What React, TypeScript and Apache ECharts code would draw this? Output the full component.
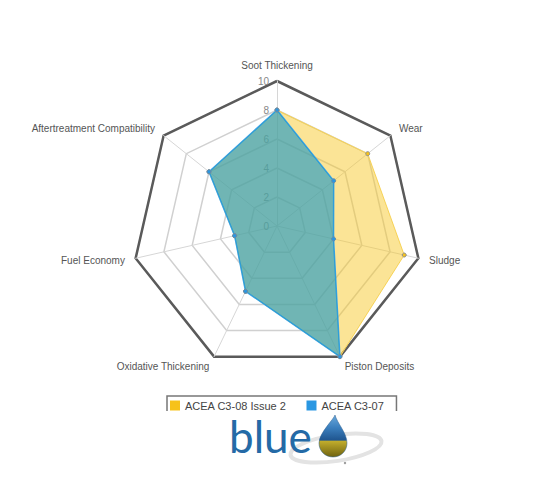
import React, { useEffect, useRef } from "react";
import * as echarts from "echarts";

const indicatorNames = [
  "Soot Thickening",
  "Aftertreatment Compatibility",
  "Fuel Economy",
  "Oxidative Thickening",
  "Piston Deposits",
  "Sludge",
  "Wear",
];
const seriesNames = ["ACEA C3-08 Issue 2", "ACEA C3-07"];
const c308Values = [8, 6, 3, 5, 10, 9, 8];
const c307Values = [8, 6, 3, 5, 10, 4, 5];
const axisMax = 10;

const dropPath =
  "M16 0 C15 4 0 18 0 28 C0 36 6 42 14 42 C22 42 28 36 28 28 C28 18 18 8 16 0 Z";

export default function App() {
  const ref = useRef<HTMLDivElement>(null);
  useEffect(() => {
    if (!ref.current) return;
    echarts.graphic.registerShape("droplet", echarts.graphic.extendPath(dropPath, {}));
    const chart = echarts.init(ref.current, null, { renderer: "svg" });
    const indicators = indicatorNames.map((n, i) =>
      i === 0
        ? {
            name: n,
            min: 0,
            max: axisMax,
            axisLabel: { show: true, color: "#888", fontSize: 10, showMinLabel: true, showMaxLabel: true },
          }
        : { name: n, min: 0, max: axisMax }
    );
    chart.setOption({
      animation: false,
      backgroundColor: "#fff",
      legend: {
        data: seriesNames,
        left: 167,
        top: 396,
        orient: "horizontal",
        itemWidth: 10,
        itemHeight: 10,
        itemGap: 20,
        icon: "rect",
        padding: [4, 12, 6, 3],
        borderColor: "#777",
        borderWidth: 1.5,
        textStyle: { fontSize: 11, color: "#444", fontFamily: "Liberation Sans, Arial, sans-serif" },
        itemStyle: { borderWidth: 0 },
      },
      radar: [
        {
          center: [277, 226],
          radius: 145,
          startAngle: 90,
          splitNumber: 5,
          shape: "polygon",
          indicator: indicators,
          axisName: { color: "#555", fontSize: 10, fontFamily: "Liberation Sans, Arial, sans-serif" },
          nameGap: 11,
          axisLabel: { show: false },
          axisLine: { lineStyle: { color: "#d6d6d6", width: 1 } },
          splitLine: { lineStyle: { color: "#d0d0d0", width: 1.5 } },
          splitArea: { show: false },
        },
        {
          center: [277, 226],
          radius: 145,
          startAngle: 90,
          splitNumber: 1,
          shape: "polygon",
          indicator: indicatorNames.map(() => ({ name: "", min: 0, max: axisMax })),
          axisName: { show: false },
          axisLabel: { show: false },
          axisLine: { show: false },
          splitLine: { lineStyle: { color: "#5a5a5a", width: 2.5 } },
          splitArea: { show: false },
        },
      ],
      series: [
        {
          type: "radar",
          radarIndex: 0,
          symbol: "circle",
          symbolSize: 4,
          z: 3,
          data: [
            {
              name: seriesNames[0],
              value: c308Values,
              itemStyle: { color: "#f6c21a", borderColor: "#8a8f96", borderWidth: 1 },
              lineStyle: { color: "#f7d76a", width: 1 },
              areaStyle: { color: "rgba(247,200,40,0.7)" },
            },
            {
              name: seriesNames[1],
              value: c307Values,
              itemStyle: { color: "#2a97e2", borderColor: "#6b8aa5", borderWidth: 1 },
              lineStyle: { color: "#3ea4e8", width: 1.5 },
              areaStyle: { color: "rgba(20,150,200,0.6)", opacity: 1 },
            },
          ],
        },
      ],
      graphic: [
        { type: "rect", z: 100, shape: { x: 150, y: 411, width: 260, height: 12 }, style: { fill: "#fff" } },
        {
          type: "ellipse",
          z: 101,
          x: 336,
          y: 448,
          rotation: 0.15,
          shape: { cx: 0, cy: 0, rx: 46, ry: 13 },
          style: { fill: "none", stroke: "#e3e3e3", lineWidth: 4 },
        },
        {
          type: "text",
          z: 102,
          x: 229,
          y: 417,
          style: {
            text: "blue",
            fill: "#246aa6",
            font: "normal 44px Lato, 'Open Sans', sans-serif",
            lineHeight: 38,
          },
        },
        {
          type: "droplet",
          z: 103,
          x: 319,
          y: 415,
          style: {
            fill: {
              type: "linear",
              x: 0,
              y: 0,
              x2: 0,
              y2: 1,
              colorStops: [
                { offset: 0, color: "#6aa9dc" },
                { offset: 0.3, color: "#3b7fbe" },
                { offset: 0.6, color: "#1f558f" },
                { offset: 0.62, color: "#c2ad2c" },
                { offset: 1, color: "#6f6310" },
              ],
            },
            stroke: "#2d5f8f",
            lineWidth: 0.5,
          },
        },
        {
          type: "circle",
          z: 103,
          shape: { cx: 345, cy: 463, r: 1.2 },
          style: { fill: "#999" },
        },
      ],
    });
    return () => chart.dispose();
  }, []);
  return (
    <div
      ref={ref}
      style={{ position: "fixed", left: 0, top: 0, width: 545, height: 487, background: "#fff" }}
    />
  );
}
